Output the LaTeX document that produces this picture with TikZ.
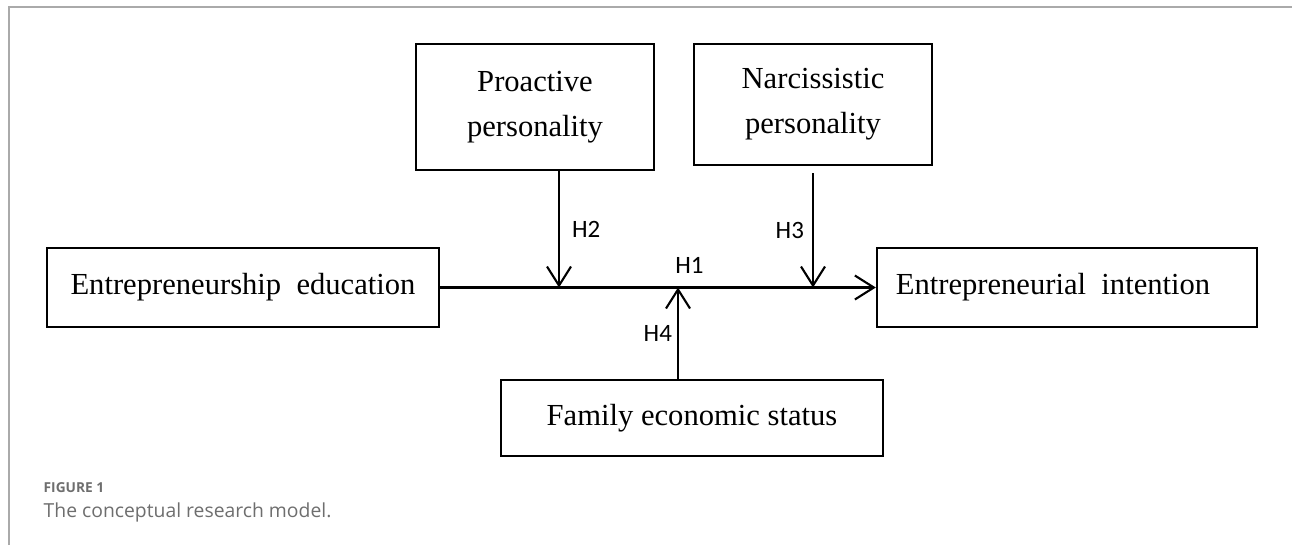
\documentclass[tikz,border=0pt]{standalone}
\usepackage{fontspec}
\setmainfont{Liberation Serif}
\newfontfamily\hypfont{Carlito}
\newfontfamily\captionfont{Open Sans}
\usepackage{xcolor}
\usepackage{tikz}
\usetikzlibrary{
  arrows.meta,
  positioning
}

\definecolor{framegray}{RGB}{170,170,170}
\definecolor{captiongray}{RGB}{110,110,110}

\begin{document}
\begin{tikzpicture}[x=0.01cm, y=-0.01cm,
  construct/.style={draw, line width=0.6pt, inner sep=0pt, align=center,
    font=\fontsize{8.7}{12.8}\selectfont},
  link/.style={line width=0.6pt, -{Straight Barb[length=0.19cm,width=0.24cm,line width=0.6pt]}},
  hyp/.style={font=\hypfont\fontsize{7.1}{8}\selectfont, inner sep=0pt}]
\useasboundingbox (0,0) rectangle (1292,545);
\draw[framegray, line width=0.45pt] (9,545) -- (9,7) -- (1292,7);
\node[construct, minimum width=2.38cm, minimum height=1.26cm] (pro) at (535,107) {Proactive\\personality};
\node[construct, minimum width=2.38cm, minimum height=1.21cm] (nar) at (813,104.5) {Narcissistic\\personality};
\node[construct, minimum width=3.92cm, minimum height=0.79cm] (edu) at (243,287.5) {Entrepreneurship\ \ education};
\node[construct, minimum width=3.80cm, minimum height=0.79cm] (int) at (1067,287.5) {Entrepreneurial\ \ intention\hspace{0.28cm}};
\node[construct, minimum width=3.82cm, minimum height=0.76cm] (fam) at (692,418) {Family economic status};
\coordinate (m2) at (559,287.5);
\coordinate (m4) at (678,287.5);
\draw[link] (edu.east) -- (int.west) node[hyp, pos=0.572, above=0.13cm]{H1};
\draw[link] (pro.south -| m2) -- (m2) node[hyp, midway, right=0.12cm]{H2};
\draw[link] ([yshift=-0.07cm]nar.south) -- (nar.south |- edu.east) node[hyp, midway, left=0.08cm]{H3};
\draw[link] (fam.north -| m4) -- (m4) node[hyp, midway, left=0.05cm]{H4};
\node[font=\captionfont\bfseries\fontsize{3.9}{4.5}\selectfont, text=captiongray, anchor=base west, inner sep=0pt] (figlabel) at (43,492) {FIGURE 1};
\node[font=\captionfont\fontsize{5.5}{6}\selectfont, text=captiongray, anchor=base west, inner sep=0pt] (figcaption) at (43,517) {The conceptual research model.};
\end{tikzpicture}
\end{document}
